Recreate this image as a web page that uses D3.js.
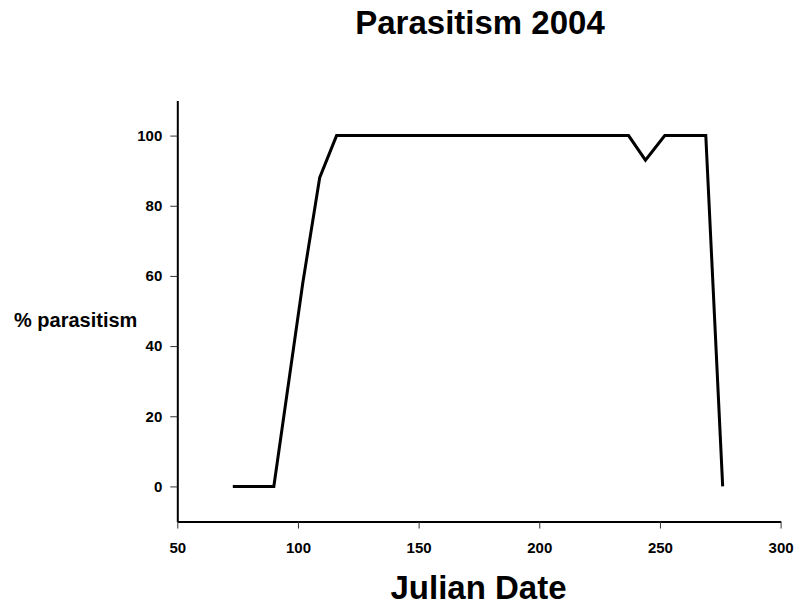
<!DOCTYPE html>
<meta charset="utf-8">
<title>Parasitism 2004</title>
<style>
body { margin: 0; background: #fff; }
svg { display: block; font-family: "Liberation Sans", Arial, sans-serif; font-weight: bold; }
.axis path { stroke: #000; stroke-width: 2px; }
.axis line { stroke: #333; stroke-width: 1px; }
.axis text { font-size: 15px; font-weight: bold; fill: #000; font-family: "Liberation Sans", Arial, sans-serif; }
.series { fill: none; stroke: #000; stroke-width: 3px; stroke-linejoin: miter; }
</style>
<body>
<div id="chart"></div>
<script src="https://cdn.jsdelivr.net/npm/d3@7"></script>
<script>
// julian day and % parasitism
var days = [73, 90, 102, 109, 116, 237, 244, 252, 269, 276];
var parasitism = [0, 0, 58, 88, 100, 100, 93, 100, 100, 0];
var xTicks = [50, 100, 150, 200, 250, 300];
var yTicks = [0, 20, 40, 60, 80, 100];

var width = 795, height = 606;

var svg = d3.select("#chart").append("svg")
    .attr("width", width)
    .attr("height", height);

var x = d3.scaleLinear().domain([50, 300]).range([177.3, 780.6]);
var y = d3.scaleLinear().domain([-10, 110]).range([521.5, 100.5]);

svg.append("g")
    .attr("class", "axis")
    .attr("transform", "translate(0," + y(-10) + ")")
    .call(d3.axisBottom(x).tickValues(xTicks).tickSize(7).tickSizeOuter(0).tickPadding(13.5));

svg.append("g")
    .attr("class", "axis")
    .attr("transform", "translate(" + x(50) + ",0)")
    .call(d3.axisLeft(y).tickValues(yTicks).tickSize(7).tickSizeOuter(0).tickPadding(8));

var points = days.map(function(d, i) { return [d, parasitism[i]]; });

var line = d3.line()
    .x(function(d) { return x(d[0]); })
    .y(function(d) { return y(d[1]); });

svg.append("path")
    .datum(points)
    .attr("class", "series")
    .attr("d", line);

svg.append("text")
    .attr("x", 480)
    .attr("y", 34)
    .attr("text-anchor", "middle")
    .style("font-size", "33px")
    .text("Parasitism 2004");

svg.append("text")
    .attr("x", 478.5)
    .attr("y", 599)
    .attr("text-anchor", "middle")
    .style("font-size", "33px")
    .text("Julian Date");

svg.append("text")
    .attr("x", 14)
    .attr("y", 326.5)
    .style("font-size", "20px")
    .text("% parasitism");
</script>
</body>
